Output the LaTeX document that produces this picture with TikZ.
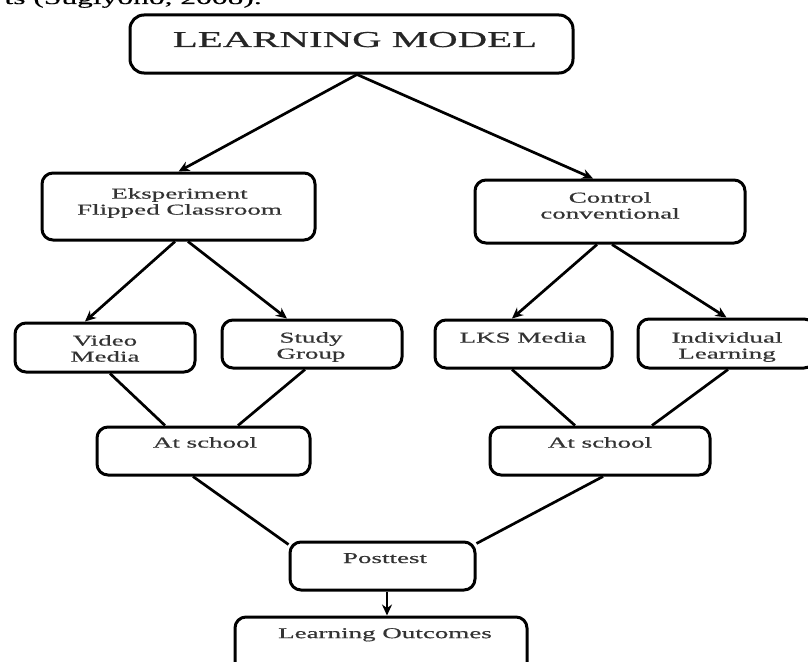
\documentclass[tikz,border=0pt]{standalone}
\usepackage{fontspec}
\setmainfont{Liberation Serif}
\newfontfamily\wf[FakeStretch=1.8,FakeBold=0.6]{Liberation Serif}
\usetikzlibrary{arrows.meta}
\begin{document}
\begin{tikzpicture}[x=1pt,y=-1pt,
  box/.style={draw, line width=3pt, rounded corners=11pt, inner sep=0pt},
  lbl/.style={inner sep=0pt, align=center, anchor=north, text=black!80,
              font=\wf\fontsize{15}{16}\selectfont},
  conn/.style={line width=2.7pt},
  arr/.style={line width=2.7pt, -{Stealth[length=11pt,width=10pt]}}]
\useasboundingbox (0,0) rectangle (808,661);
\clip (0,0) rectangle (808,661);

% cut-off text at top
\node[inner sep=0pt, anchor=base east, text=black, font=\wf\fontsize{17.5}{18}\selectfont] (cite) at (262,4) {ts (Sugiyono, 2008).};

% boxes
\node[box, rounded corners=14pt, minimum width=443pt, minimum height=58pt] (lm) at (351.5,44) {};
\node[box, minimum width=273pt, minimum height=67pt] (ek) at (178.5,206.5) {};
\node[box, minimum width=270pt, minimum height=63pt] (cc) at (610,211.5) {};
\node[box, minimum width=180pt, minimum height=49pt] (vm) at (105,347.5) {};
\node[box, minimum width=180pt, minimum height=48pt] (sg) at (312,344) {};
\node[box, minimum width=177pt, minimum height=48pt] (lks) at (523.5,344) {};
\node[box, minimum width=177pt, minimum height=49pt] (il) at (726.5,343.5) {};
\node[box, minimum width=213pt, minimum height=48pt] (as1) at (203.5,451) {};
\node[box, minimum width=220pt, minimum height=48pt] (as2) at (600,451) {};
\node[box, minimum width=185pt, minimum height=48pt] (pt) at (382.5,566) {};
\node[box, minimum width=292pt, minimum height=73pt] (lo) at (381,653.5) {};

% texts
\node[inner sep=0pt, anchor=base, text=black!85, font=\wf\fontsize{22.7}{24}\selectfont] (lmt) at (355,47) {LEARNING MODEL};
\node[lbl] (ekt) at (179.5,188) {Eksperiment\\Flipped Classroom};
\node[lbl] (cct) at (610,192) {Control\\conventional};
\node[lbl] (vmt) at (105,335) {Video\\Media};
\node[lbl] (sgt) at (311,332) {Study\\Group};
\node[lbl] (lkst) at (523,332) {LKS Media};
\node[lbl] (ilt) at (727,332) {Individual\\Learning};
\node[lbl] (as1t) at (205,437) {At school};
\node[lbl] (as2t) at (600,437) {At school};
\node[lbl] (ptt) at (385,553) {Posttest};
\node[lbl] (lot) at (385,628) {Learning Outcomes};

% connectors
\draw[arr] ([xshift=5.5pt]lm.south) -- (ek.north);
\draw[arr] ([xshift=5.5pt]lm.south) -- ([xshift=-17pt]cc.north);
\draw[arr] ([xshift=-3.5pt]ek.south) -- ([xshift=-20pt]vm.north);
\draw[arr] ([xshift=9.5pt]ek.south) -- ([xshift=-25pt]sg.north);
\draw[arr] ([xshift=-13pt]cc.south) -- ([xshift=-11.5pt]lks.north);
\draw[arr] ([xshift=2pt]cc.south) -- (il.north);
\draw[conn] ([xshift=5pt]vm.south) -- ([xshift=-38.5pt]as1.north);
\draw[conn] ([xshift=-7pt]sg.south) -- ([xshift=34.5pt]as1.north);
\draw[conn] ([xshift=-11.5pt]lks.south) -- ([xshift=-25pt]as2.north);
\draw[conn] ([xshift=1.5pt]il.south) -- ([xshift=52pt]as2.north);
\draw[conn] ([xshift=-10.5pt]as1.south) -- ([yshift=-4pt]pt.north west);
\draw[conn] ([xshift=3pt]as2.south) -- ([yshift=-3pt]pt.north east);
\draw[arr] ([xshift=4.5pt]pt.south) -- ([xshift=4.5pt]pt.south |- lo.north);
\end{tikzpicture}
\end{document}
